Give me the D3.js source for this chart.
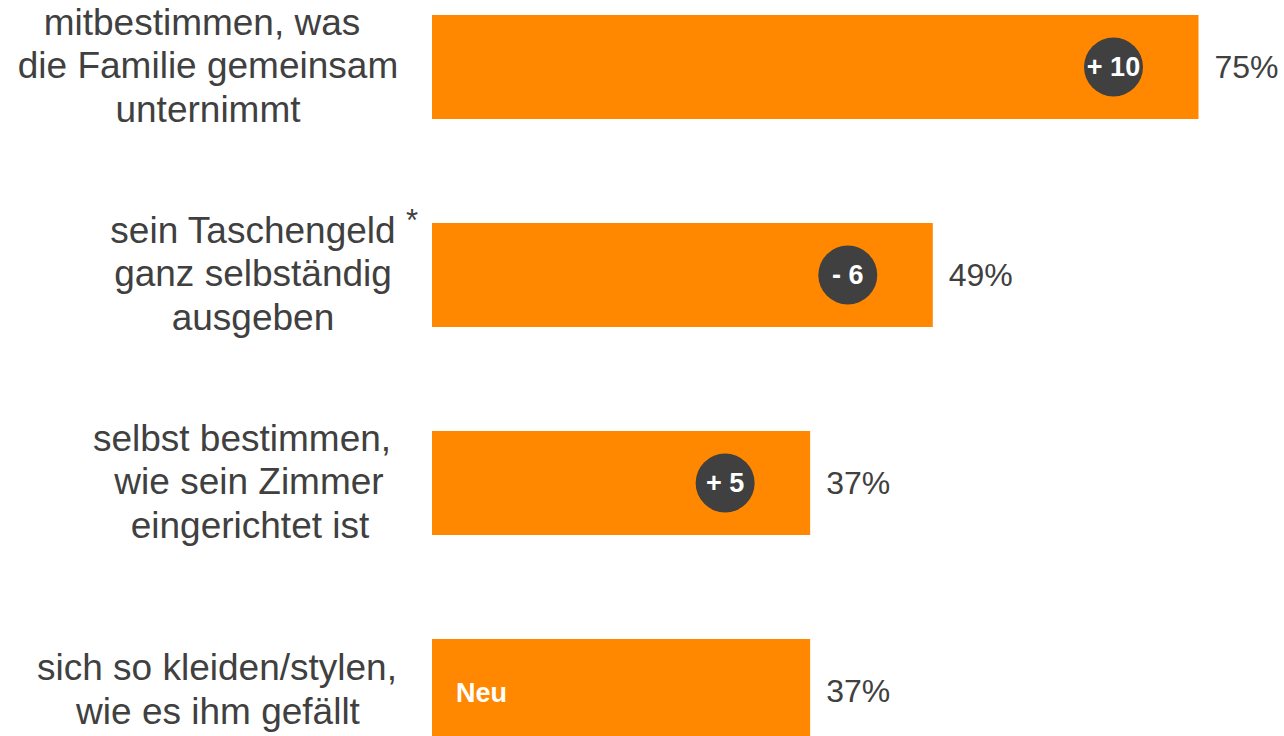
<!DOCTYPE html>
<html><head><meta charset="utf-8">
<script src="https://cdn.jsdelivr.net/npm/d3@7"></script>
<style>html,body{margin:0;padding:0;background:#fff;overflow:hidden}</style>
</head><body>
<svg id="c" width="1284" height="736"></svg>
<script>
const categories = ["mitbestimmen","taschengeld","zimmer","kleiden"];
const labelLines = [
  ["mitbestimmen, was","die Familie gemeinsam","unternimmt"],
  ["sein Taschengeld","ganz selbständig","ausgeben"],
  ["selbst bestimmen,","wie sein Zimmer","eingerichtet ist"],
  ["sich so kleiden/stylen,","wie es ihm gefällt"]
];
const values = [75, 49, 37, 37];
const valueLabels = ["75%","49%","37%","37%"];
const changes = ["+ 10","- 6","+ 5",null];
const newFlags = [false,false,false,true];
const footnoteMarks = [null,"*",null,null];

// layout-only x centres for each label line
const lineCenters = [[202,208,208],[253,253,253],[242,249,250],[217,218]];

const svg = d3.select("#c");
const orange = "#FF8800", dark = "#404040";
const font = "'Liberation Sans', Arial, Helvetica, sans-serif";

const x = d3.scaleLinear().domain([0,100]).range([432,1454]);
const y = d3.scaleBand().domain(categories).range([-37,795]).paddingInner(0.5).paddingOuter(0.25);

const g = svg.selectAll("g.row").data(categories).join("g").attr("class","row");

g.append("rect")
  .attr("x", x(0))
  .attr("y", d => y(d))
  .attr("width", (d,i) => x(values[i]) - x(0))
  .attr("height", y.bandwidth())
  .attr("fill", orange);

g.each(function(d,i){
  const lines = labelLines[i];
  const cy = y(d) + y.bandwidth()/2;
  const lh = 43.5;
  const startBase = cy + 11 - (lines.length-1)/2*lh;
  const t = d3.select(this).append("text")
    .attr("font-family", font).attr("font-size", 37).attr("fill", dark)
    .attr("text-anchor","middle");
  lines.forEach((ln,k) => {
    t.append("tspan").attr("x", lineCenters[i][k]).attr("y", startBase + k*lh).text(ln);
  });
  if (footnoteMarks[i]) {
    d3.select(this).append("text")
      .attr("x", 406).attr("y", startBase - 12)
      .attr("font-family", font).attr("font-size", 31).attr("fill", dark)
      .text(footnoteMarks[i]);
  }
});

g.append("text")
  .attr("x", (d,i) => x(values[i]) + 16)
  .attr("y", d => y(d) + y.bandwidth()/2 + 11)
  .attr("font-family", font).attr("font-size", 32).attr("fill", dark)
  .text((d,i) => valueLabels[i]);

g.filter((d,i) => changes[i] !== null).each(function(d){
  const i = categories.indexOf(d);
  const cx = x(values[i]) - 85;
  const cy = y(d) + y.bandwidth()/2;
  d3.select(this).append("circle").attr("cx", cx).attr("cy", cy).attr("r", 29.5).attr("fill", dark);
  d3.select(this).append("text")
    .attr("x", cx).attr("y", cy + 9)
    .attr("text-anchor","middle")
    .attr("font-family", font).attr("font-size", 27).attr("font-weight","bold").attr("fill","#fff")
    .text(changes[i]);
});

g.filter((d,i) => newFlags[i]).append("text")
  .attr("x", x(0) + 24)
  .attr("y", d => y(d) + y.bandwidth()/2 + 11)
  .attr("font-family", font).attr("font-size", 27).attr("font-weight","bold").attr("fill","#fff")
  .text("Neu");
</script>
</body></html>
